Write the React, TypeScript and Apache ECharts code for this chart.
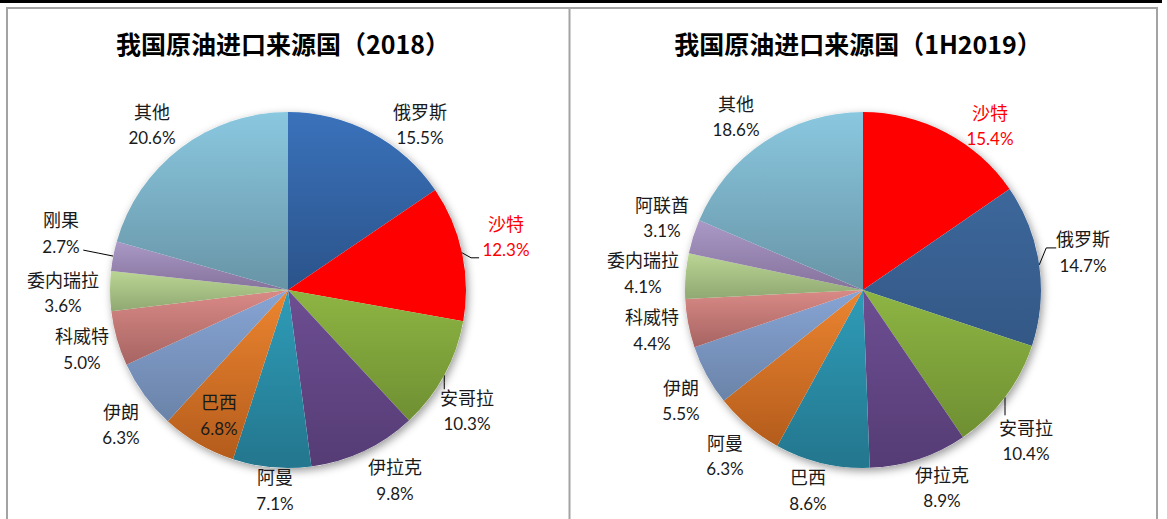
import React, { useEffect, useRef } from 'react';
import * as echarts from 'echarts';

// ---- data ----
const countries2018 = ['俄罗斯', '沙特', '安哥拉', '伊拉克', '阿曼', '巴西', '伊朗', '科威特', '委内瑞拉', '刚果', '其他'];
const shares2018 = [15.5, 12.3, 10.3, 9.8, 7.1, 6.8, 6.3, 5.0, 3.6, 2.7, 20.6];
const countries2019 = ['沙特', '俄罗斯', '安哥拉', '伊拉克', '巴西', '阿曼', '伊朗', '科威特', '委内瑞拉', '阿联酋', '其他'];
const shares2019 = [15.4, 14.7, 10.4, 8.9, 8.6, 6.3, 5.5, 4.4, 4.1, 3.1, 18.6];
const titles = ['我国原油进口来源国（2018）', '我国原油进口来源国（1H2019）'];
const highlighted = '沙特';

// ---- styles ----
const colors2018: string[][] = [
  ['#3a72bb', '#2b538a'],
  ['#ff0000', '#ff0000'],
  ['#8db543', '#6f8f32'],
  ['#6d4e92', '#553c75'],
  ['#2f9cb8', '#23768d'],
  ['#ec8530', '#b45c1c'],
  ['#87a4d4', '#6a83a8'],
  ['#d98a86', '#a66462'],
  ['#bad594', '#90a872'],
  ['#aa98c6', '#85739c'],
  ['#8ac8e0', '#6894a6'],
];
const colors2019: string[][] = [
  ['#ff0000', '#ff0000'],
  ['#3d679b', '#335886'],
  ...colors2018.slice(2),
];
// label block centres relative to the pie centre
const labelOffsets2018 = [
  [132, -165.5], [218, -53.5], [179, 120.5], [107, 190], [-13, 200], [-69, 125],
  [-167, 134.5], [-206, 59], [-225, 2.5], [-227, -57], [-136, -165.5],
];
const labelOffsets2019 = [
  [127, -164.5], [220, -38], [163, 150.5], [79, 197.5], [-55, 200], [-138, 165.5],
  [-182, 110.5], [-211, 40], [-220, -17], [-201, -72.5], [-127, -173.5],
];
// leader lines: [bendDx, bendDy, endDx, endDy] from the slice edge
const leaders2018: Record<number, number[]> = { 1: [9, 5, 17, 5], 2: [0, 7, 0, 14], 9: [-15, -3, -30, -6] };
const leaders2019: Record<number, number[]> = { 1: [7, -17, 17, -17], 2: [0, 9, 0, 18] };

const FONT = 'Lato, "Noto Sans CJK SC", sans-serif';
const R = 178;
const centers = [[288, 290], [863, 290]];

function buildPie(
  names: string[], values: number[], cols: string[][], offsets: number[][],
  leaders: Record<number, number[]>, center: number[]
) {
  const data = names.map((n, i) => ({
    name: n,
    value: values[i],
    itemStyle: {
      color: new echarts.graphic.LinearGradient(0, 0, 0, 1, [
        { offset: 0, color: cols[i][0] },
        { offset: 1, color: cols[i][1] },
      ]),
    },
    label: n === highlighted ? { color: '#ff0000' } : undefined,
    labelLine: leaders[i] ? { show: true, lineStyle: { color: '#000', width: 1 } } : { show: false },
  }));
  return {
    type: 'pie',
    center,
    radius: R,
    startAngle: 90,
    clockwise: true,
    z: 2,
    avoidLabelOverlap: false,
    emphasis: { disabled: true },
    data,
    label: {
      show: true,
      position: 'outside',
      color: '#1a1a1a',
      fontFamily: FONT,
      formatter: (p: any) => `{n|${p.name}}\n{p|${Number(p.value).toFixed(1)}%}`,
      rich: {
        n: { fontSize: 18, lineHeight: 26, fontFamily: FONT },
        p: { fontSize: 17, lineHeight: 26, fontFamily: FONT },
      },
    },
    labelLine: { show: false },
    labelLayout: (params: any) => {
      const i = params.dataIndex;
      const off = offsets[i];
      const res: any = {
        x: center[0] + off[0],
        y: center[1] + off[1],
        align: 'center',
        verticalAlign: 'middle',
      };
      const ld = leaders[i];
      if (ld && params.labelLinePoints) {
        const s = params.labelLinePoints[0];
        res.labelLinePoints = [
          [s[0], s[1]],
          [s[0] + ld[0], s[1] + ld[1]],
          [s[0] + ld[2], s[1] + ld[3]],
        ];
      }
      return res;
    },
  };
}

function shadowPie(center: number[]) {
  return {
    type: 'pie',
    center,
    radius: R,
    z: 1,
    silent: true,
    emphasis: { disabled: true },
    label: { show: false },
    labelLine: { show: false },
    itemStyle: {
      color: '#ffffff',
      shadowBlur: 9,
      shadowColor: 'rgba(0,0,0,0.4)',
      shadowOffsetX: 2,
      shadowOffsetY: 3,
    },
    data: [{ value: 1, name: '' }],
  };
}

export default function App() {
  const ref = useRef<HTMLDivElement>(null);
  useEffect(() => {
    if (!ref.current) return;
    const chart = echarts.init(ref.current, undefined, { renderer: 'svg' });
    chart.setOption({
      animation: false,
      backgroundColor: '#ffffff',
      graphic: [
        { type: 'rect', z: 100, shape: { x: 0, y: 0, width: 1162, height: 3 }, style: { fill: '#000' } },
        {
          type: 'rect', z: 100,
          shape: { x: 7, y: 8, width: 1150, height: 530 },
          style: { fill: 'none', stroke: '#a3a3a3', lineWidth: 2 },
        },
        {
          type: 'line', z: 100,
          shape: { x1: 569.5, y1: 8, x2: 569.5, y2: 519 },
          style: { stroke: '#a3a3a3', lineWidth: 2 },
        },
        {
          type: 'text', z: 100, x: 283, y: 43,
          style: {
            text: titles[0], fill: '#000', align: 'center', verticalAlign: 'middle',
            font: 'bold 25px "Noto Sans CJK SC", sans-serif',
          },
        },
        {
          type: 'text', z: 100, x: 858, y: 43,
          style: {
            text: titles[1], fill: '#000', align: 'center', verticalAlign: 'middle',
            font: 'bold 25px "Noto Sans CJK SC", sans-serif',
          },
        },
      ],
      series: [
        shadowPie(centers[0]),
        shadowPie(centers[1]),
        buildPie(countries2018, shares2018, colors2018, labelOffsets2018, leaders2018, centers[0]),
        buildPie(countries2019, shares2019, colors2019, labelOffsets2019, leaders2019, centers[1]),
      ],
    });
    return () => chart.dispose();
  }, []);
  return (
    <div
      ref={ref}
      style={{ position: 'absolute', left: 0, top: 0, width: 1167, height: 519, background: '#fff' }}
    />
  );
}
